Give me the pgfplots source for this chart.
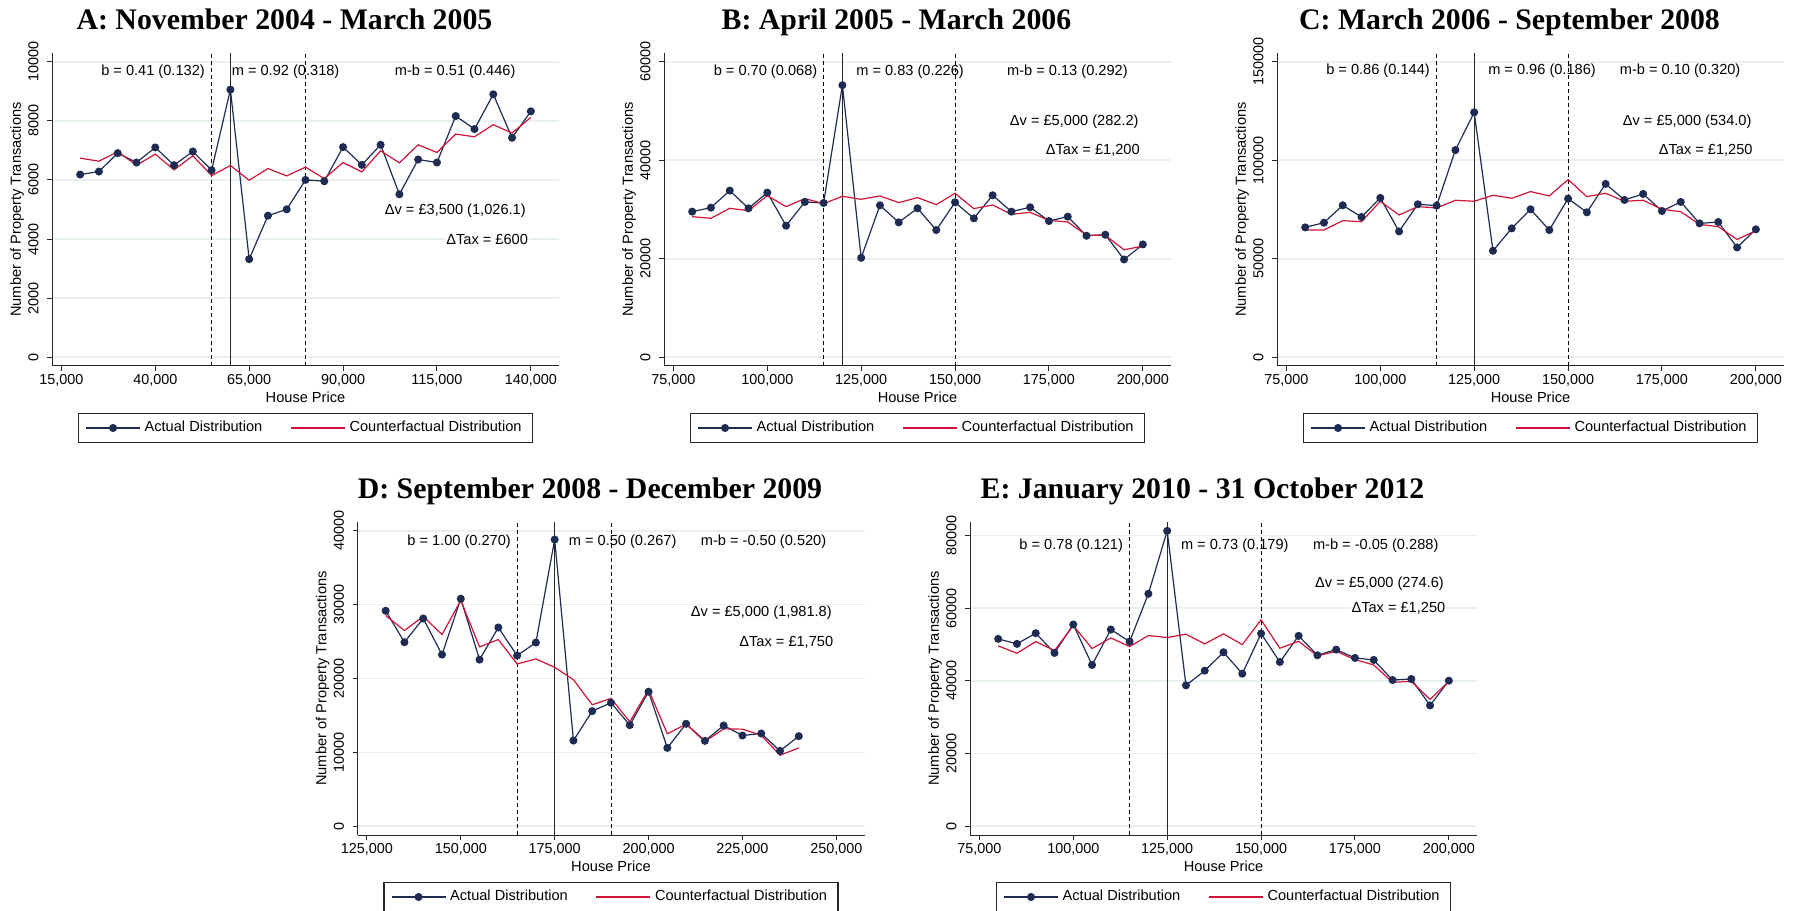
\documentclass[border=0pt]{standalone}
\usepackage{fontspec}
\setmainfont{Liberation Sans}
\newfontfamily\titlefont{Liberation Serif}
\usepackage{pgfplots}
\pgfplotsset{compat=1.18}

\definecolor{navyc}{RGB}{30,44,84}
\definecolor{redc}{RGB}{208,20,56}
\definecolor{gridc}{RGB}{231,240,242}

\newcommand\tickfont{\fontsize{7.2}{8.4}\selectfont}
\newcommand\labfont{\fontsize{7.3}{8.8}\selectfont}

\pgfplotsset{
  panel/.style={
    scale only axis, width=253.5pt, height=156.5pt, anchor=south west,
    axis lines=left, axis line style={-, line width=0.5pt, black!85},
    tick align=outside, major tick length=2.5pt,
    tick style={line width=0.5pt, black!85},
    ymajorgrids, grid style={gridc, line width=0.8pt},
    scaled ticks=false,
    xticklabel style={font=\tickfont, inner sep=0pt, anchor=north, yshift=-1.6pt},
    yticklabel style={font=\tickfont, inner sep=0pt, xshift=-4pt, rotate=90, anchor=south},
    xlabel={House Price}, ylabel={Number of Property Transactions},
    every axis x label/.style={at={(0.5,0)}, yshift=-15.75pt, anchor=center, font=\labfont},
    every axis y label/.style={at={(0,0.5)}, xshift=-17.5pt, rotate=90, anchor=center, font=\labfont},
    title style={at={(0.5,1)}, anchor=base, xshift=-10.5pt, yshift=5.6pt,
      font=\titlefont\bfseries\fontsize{14.9}{17}\selectfont},
    legend style={at={(0.5,-0.198)}, anchor=center, legend columns=2,
      draw=black!85, line width=0.6pt, font=\labfont, inner xsep=3.5pt, inner ysep=2pt,
      /tikz/every even column/.append style={column sep=12pt}},
    legend image code/.code={\draw[mark repeat=2, mark phase=2]
      plot coordinates {(0pt,0pt) (13.5pt,0pt) (27pt,0pt)};},
  },
  actual/.style={navyc, line width=0.6pt, mark=*, mark size=1.7pt,
    mark options={fill=navyc, draw=navyc}},
  counter/.style={redc, line width=0.6pt, no markers},
  cut/.style={forget plot, black, line width=0.45pt, dash pattern=on 2pt off 1.5pt},
  kink/.style={forget plot, black!85, line width=0.55pt},
}
\tikzset{
  ann/.style={font=\labfont, inner sep=0.5pt, anchor=center},
  annr/.style={font=\labfont, inner sep=0.5pt, anchor=east, fill=white},
}

\begin{document}
\begin{tikzpicture}
\path[use as bounding box] (0,0) rectangle (901pt,455pt);

% ---------------- A
\begin{axis}[panel, at={(26pt,272pt)},
  title={A: November 2004 - March 2005},
  xmin=12500, xmax=147500, ymin=-300, ymax=10300,
  xtick={15000,40000,65000,90000,115000,140000},
  xticklabels={15{,}000,40{,}000,65{,}000,90{,}000,115{,}000,140{,}000},
  ytick={0,2000,4000,6000,8000,10000},
  yticklabels={0,2000,4000,6000,8000,10000}]
\addplot[cut] coordinates {(55000,-300) (55000,10300)};
\addplot[kink] coordinates {(60000,-300) (60000,10300)};
\addplot[cut] coordinates {(80000,-300) (80000,10300)};
\addplot[actual] coordinates {
 (20000,6183)(25000,6285)(30000,6908)(35000,6591)(40000,7101)(45000,6500)(50000,6965)
 (55000,6331)(60000,9060)(65000,3318)(70000,4790)(75000,5006)(80000,6002)(85000,5957)
 (90000,7112)(95000,6512)(100000,7191)(105000,5515)(110000,6693)(115000,6591)
 (120000,8165)(125000,7724)(130000,8901)(135000,7429)(140000,8324)};
\addplot[counter] coordinates {
 (20000,6738)(25000,6636)(30000,6953)(35000,6500)(40000,6874)(45000,6342)(50000,6818)
 (55000,6149)(60000,6489)(65000,5991)(70000,6387)(75000,6138)(80000,6433)(85000,6048)
 (90000,6591)(95000,6274)(100000,6987)(105000,6580)(110000,7191)(115000,6931)
 (120000,7554)(125000,7463)(130000,7871)(135000,7588)(140000,8120)};
\legend{Actual Distribution, Counterfactual Distribution}
\node[ann] at (axis cs:39400,9680) {b = 0.41 (0.132)};
\node[ann] at (axis cs:74700,9680) {m = 0.92 (0.318)};
\node[ann] at (axis cs:119860,9680) {m-b = 0.51 (0.446)};
\node[annr] at (axis cs:139000,4960) {Δv = £3,500 (1,026.1)};
\node[annr] at (axis cs:139600,4000) {ΔTax = £600};
\end{axis}

% ---------------- B
\begin{axis}[panel, at={(332pt,272pt)},
  title={B: April 2005 - March 2006},
  xmin=72500, xmax=207500, ymin=-1800, ymax=61800,
  xtick={75000,100000,125000,150000,175000,200000},
  xticklabels={75{,}000,100{,}000,125{,}000,150{,}000,175{,}000,200{,}000},
  ytick={0,20000,40000,60000},
  yticklabels={0,20000,40000,60000}]
\addplot[cut] coordinates {(115000,-1800) (115000,61800)};
\addplot[kink] coordinates {(120000,-1800) (120000,61800)};
\addplot[cut] coordinates {(150000,-1800) (150000,61800)};
\addplot[actual] coordinates {
 (80000,29562)(85000,30377)(90000,33843)(95000,30241)(100000,33435)(105000,26707)
 (110000,31532)(115000,31329)(120000,55250)(125000,20184)(130000,30853)(135000,27387)
 (140000,30241)(145000,25824)(150000,31465)(155000,28202)(160000,32892)(165000,29562)
 (170000,30445)(175000,27659)(180000,28543)(185000,24669)(190000,24873)(195000,19844)
 (200000,22902)};
\addplot[counter] coordinates {
 (80000,28543)(85000,28202)(90000,30241)(95000,29766)(100000,32824)(105000,30581)
 (110000,32212)(115000,31193)(120000,32688)(125000,32076)(130000,32756)(135000,31397)
 (140000,32416)(145000,30989)(150000,33300)(155000,30173)(160000,30921)(165000,29018)
 (170000,29426)(175000,27795)(180000,27455)(185000,24805)(190000,24737)(195000,21815)
 (200000,22562)};
\legend{Actual Distribution, Counterfactual Distribution}
\node[ann] at (axis cs:99530,57900) {b = 0.70 (0.068)};
\node[ann] at (axis cs:138020,57900) {m = 0.83 (0.226)};
\node[ann] at (axis cs:179920,57900) {m-b = 0.13 (0.292)};
\node[annr] at (axis cs:199240,47770) {Δv = £5,000 (282.2)};
\node[annr] at (axis cs:199530,41930) {ΔTax = £1,200};
\end{axis}

% ---------------- C
\begin{axis}[panel, at={(638.5pt,272pt)},
  title={C: March 2006 - September 2008},
  xmin=72500, xmax=207500, ymin=-4500, ymax=154500,
  xtick={75000,100000,125000,150000,175000,200000},
  xticklabels={75{,}000,100{,}000,125{,}000,150{,}000,175{,}000,200{,}000},
  ytick={0,50000,100000,150000},
  yticklabels={0,50000,100000,150000}]
\addplot[cut] coordinates {(115000,-4500) (115000,154500)};
\addplot[kink] coordinates {(125000,-4500) (125000,154500)};
\addplot[cut] coordinates {(150000,-4500) (150000,154500)};
\addplot[actual] coordinates {
 (80000,65919)(85000,68297)(90000,77132)(95000,71186)(100000,80870)(105000,63880)
 (110000,77642)(115000,76962)(120000,105165)(125000,124363)(130000,54026)(135000,65409)
 (140000,75093)(145000,64560)(150000,80530)(155000,73564)(160000,88006)(165000,79850)
 (170000,82909)(175000,74244)(180000,78831)(185000,67958)(190000,68638)(195000,55725)
 (200000,64900)};
\addplot[counter] coordinates {
 (80000,64560)(85000,64560)(90000,69317)(95000,68807)(100000,79171)(105000,72205)
 (110000,76453)(115000,75773)(120000,79681)(125000,79171)(130000,82229)(135000,80700)
 (140000,84098)(145000,81889)(150000,90214)(155000,81549)(160000,83248)(165000,79171)
 (170000,79681)(175000,75093)(180000,73904)(185000,67448)(190000,66259)(195000,59803)
 (200000,64220)};
\legend{Actual Distribution, Counterfactual Distribution}
\node[ann] at (axis cs:99390,145600) {b = 0.86 (0.144)};
\node[ann] at (axis cs:143060,145600) {m = 0.96 (0.186)};
\node[ann] at (axis cs:179830,145600) {m-b = 0.10 (0.320)};
\node[annr] at (axis cs:199210,119430) {Δv = £5,000 (534.0)};
\node[annr] at (axis cs:199500,104820) {ΔTax = £1,250};
\end{axis}

% ---------------- D
\begin{axis}[panel, at={(178.75pt,37.5pt)},
  title={D: September 2008 - December 2009},
  xmin=122500, xmax=257500, ymin=-1200, ymax=41200,
  xtick={125000,150000,175000,200000,225000,250000},
  xticklabels={125{,}000,150{,}000,175{,}000,200{,}000,225{,}000,250{,}000},
  ytick={0,10000,20000,30000,40000},
  yticklabels={0,10000,20000,30000,40000}]
\addplot[cut] coordinates {(165000,-1200) (165000,41200)};
\addplot[kink] coordinates {(175000,-1200) (175000,41200)};
\addplot[cut] coordinates {(190000,-1200) (190000,41200)};
\addplot[actual] coordinates {
 (130000,29173)(135000,24915)(140000,28131)(145000,23239)(150000,30804)(155000,22559)
 (160000,26908)(165000,23103)(170000,24870)(175000,38822)(180000,11597)(185000,15583)
 (190000,16716)(195000,13681)(200000,18211)(205000,10600)(210000,13862)(215000,11552)
 (220000,13635)(225000,12276)(230000,12548)(235000,10193)(240000,12186)};
\addplot[counter] coordinates {
 (130000,28539)(135000,26501)(140000,28403)(145000,25957)(150000,30578)(155000,24281)
 (160000,25277)(165000,21970)(170000,22650)(175000,21518)(180000,19841)(185000,16444)
 (190000,17305)(195000,14134)(200000,18482)(205000,12503)(210000,13817)(215000,11461)
 (220000,13182)(225000,13137)(230000,12321)(235000,9604)(240000,10600)};
\legend{Actual Distribution, Counterfactual Distribution}
\node[ann] at (axis cs:149550,38505) {b = 1.00 (0.270)};
\node[ann] at (axis cs:193090,38505) {m = 0.50 (0.267)};
\node[ann] at (axis cs:230620,38505) {m-b = -0.50 (0.520)};
\node[annr] at (axis cs:249150,28900) {Δv = £5,000 (1,981.8)};
\node[annr] at (axis cs:249530,24870) {ΔTax = £1,750};
\end{axis}

% ---------------- E
\begin{axis}[panel, at={(485pt,37.5pt)},
  title={E: January 2010 - 31 October 2012},
  xmin=72500, xmax=207500, ymin=-2440, ymax=83730,
  xtick={75000,100000,125000,150000,175000,200000},
  xticklabels={75{,}000,100{,}000,125{,}000,150{,}000,175{,}000,200{,}000},
  ytick={0,20000,40000,60000,80000},
  yticklabels={0,20000,40000,60000,80000}]
\addplot[cut] coordinates {(115000,-2440) (115000,83730)};
\addplot[kink] coordinates {(125000,-2440) (125000,83730)};
\addplot[cut] coordinates {(150000,-2440) (150000,83730)};
\addplot[actual] coordinates {
 (80000,51554)(85000,50173)(90000,53119)(95000,47687)(100000,55512)(105000,44373)
 (110000,54131)(115000,50817)(120000,63982)(125000,81289)(130000,38757)(135000,42808)
 (140000,47871)(145000,41979)(150000,53027)(155000,45202)(160000,52382)(165000,47043)
 (170000,48607)(175000,46306)(180000,45754)(185000,40230)(190000,40506)(195000,33234)
 (200000,40046)};
\addplot[counter] coordinates {
 (80000,49620)(85000,47595)(90000,50817)(95000,48331)(100000,55236)(105000,48883)
 (110000,51829)(115000,49436)(120000,52474)(125000,51922)(130000,52843)(135000,50173)
 (140000,52935)(145000,49988)(150000,56800)(155000,48975)(160000,50909)(165000,46858)
 (170000,48147)(175000,45846)(180000,44373)(185000,39586)(190000,39862)(195000,34890)
 (200000,39862)};
\legend{Actual Distribution, Counterfactual Distribution}
\node[ann] at (axis cs:99450,77240) {b = 0.78 (0.121)};
\node[ann] at (axis cs:143000,77240) {m = 0.73 (0.179)};
\node[ann] at (axis cs:180520,77240) {m-b = -0.05 (0.288)};
\node[annr] at (axis cs:199035,66740) {Δv = £5,000 (274.6)};
\node[annr] at (axis cs:199420,59930) {ΔTax = £1,250};
\end{axis}
\end{tikzpicture}
\end{document}
